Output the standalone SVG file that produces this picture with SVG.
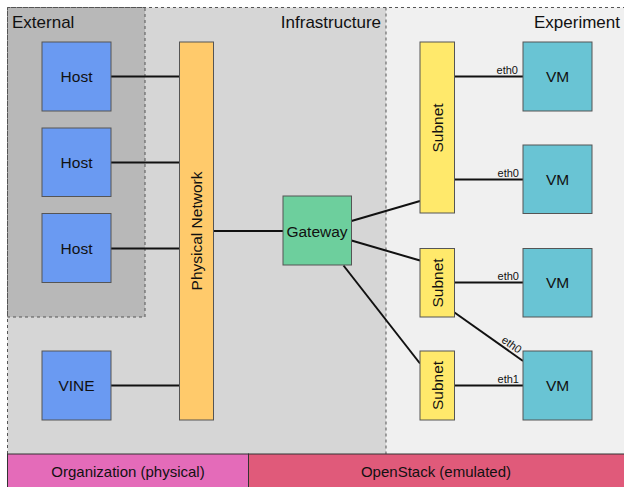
<svg xmlns="http://www.w3.org/2000/svg" width="624" height="487" viewBox="0 0 624 487">
<style>
text{font-family:"Liberation Sans",Arial,sans-serif;fill:#111}
.n{stroke:#555;stroke-width:1}
.host{fill:#6a9af2}
.vm{fill:#69c4d4}
.sub{fill:#ffe96b}
.lbl{font-size:15.5px;text-anchor:middle;dominant-baseline:central}
.bar{font-size:15px}
.reg{font-size:17px}
.eth{font-size:11px;text-anchor:end}
.dash{fill:none;stroke:#555;stroke-width:1;stroke-dasharray:3,3}
.c{stroke:#111;stroke-width:2;fill:none}
</style>
<rect width="624" height="487" fill="#fff"/>
<g id="regions">
<rect x="7.5" y="7.5" width="378.5" height="446.5" fill="#d6d6d6"/>
<rect x="386" y="7.5" width="238" height="446.5" fill="#f0f0f0"/>
<rect x="7.5" y="7.5" width="137.5" height="309.5" fill="#b8b8b8"/>
<path class="dash" d="M7.5,454 V7.5 H624"/>
<path class="dash" d="M386,7.5 V454"/>
<rect class="dash" x="7.5" y="7.5" width="137.5" height="309.5"/>
<text class="reg" x="12" y="28">External</text>
<text class="reg" x="381" y="28" text-anchor="end">Infrastructure</text>
<text class="reg" x="620" y="28" text-anchor="end">Experiment</text>
</g>
<g id="connectors">
<line class="c" x1="111" y1="76.5" x2="179" y2="76.5"/>
<line class="c" x1="111" y1="162.5" x2="179" y2="162.5"/>
<line class="c" x1="111" y1="248.5" x2="179" y2="248.5"/>
<line class="c" x1="111" y1="385.5" x2="179" y2="385.5"/>
<line class="c" x1="214" y1="231" x2="283" y2="231"/>
<line class="c" x1="351.5" y1="221" x2="420" y2="201"/>
<line class="c" x1="351.5" y1="240.5" x2="420" y2="260.5"/>
<line class="c" x1="343.5" y1="265.5" x2="420" y2="363.5"/>
<line class="c" x1="454.5" y1="76.5" x2="523" y2="76.5"/>
<line class="c" x1="454.5" y1="179.5" x2="523" y2="179.5"/>
<line class="c" x1="454.5" y1="282.5" x2="523" y2="282.5"/>
<line class="c" x1="454.5" y1="312.5" x2="523" y2="361"/>
<line class="c" x1="454.5" y1="385.5" x2="523" y2="385.5"/>
<text class="eth" x="518" y="74">eth0</text>
<text class="eth" x="519" y="177">eth0</text>
<text class="eth" x="519" y="280">eth0</text>
<text class="eth" x="519" y="383">eth1</text>
<text class="eth" transform="translate(511,345) rotate(35.5)" x="11" y="3">eth0</text>
</g>
<g id="host1"><rect class="n host" x="42" y="42" width="69" height="69"/><text class="lbl" x="76.5" y="76.5">Host</text></g>
<g id="host2"><rect class="n host" x="42" y="128" width="69" height="68.5"/><text class="lbl" x="76.5" y="162.5">Host</text></g>
<g id="host3"><rect class="n host" x="42" y="213.5" width="69" height="69"/><text class="lbl" x="76.5" y="248.5">Host</text></g>
<g id="vine"><rect class="n host" x="42" y="351" width="69" height="69"/><text class="lbl" x="76.5" y="385.5">VINE</text></g>
<g id="physical-network"><rect class="n" fill="#ffca6b" x="179.5" y="42" width="34" height="378"/><text class="lbl" transform="translate(196.5,231) rotate(-90)">Physical Network</text></g>
<g id="gateway"><rect class="n" fill="#6dcf9d" x="283" y="196" width="68.5" height="69"/><text class="lbl" x="317" y="231">Gateway</text></g>
<g id="subnet1"><rect class="n sub" x="420" y="42" width="34.5" height="171"/><text class="lbl" transform="translate(437,128) rotate(-90)">Subnet</text></g>
<g id="subnet2"><rect class="n sub" x="420" y="248.5" width="34.5" height="68.5"/><text class="lbl" transform="translate(437,283) rotate(-90)">Subnet</text></g>
<g id="subnet3"><rect class="n sub" x="420" y="351" width="34.5" height="69"/><text class="lbl" transform="translate(437,385.5) rotate(-90)">Subnet</text></g>
<g id="vm1"><rect class="n vm" x="523" y="42" width="69" height="69"/><text class="lbl" x="557.5" y="76.5">VM</text></g>
<g id="vm2"><rect class="n vm" x="523" y="145" width="69" height="68.5"/><text class="lbl" x="557.5" y="179.5">VM</text></g>
<g id="vm3"><rect class="n vm" x="523" y="248.5" width="69" height="68.5"/><text class="lbl" x="557.5" y="282.5">VM</text></g>
<g id="vm4"><rect class="n vm" x="523" y="351" width="69" height="69"/><text class="lbl" x="557.5" y="385.5">VM</text></g>
<g id="bar-organization"><rect x="7.5" y="454" width="241" height="34" fill="#e46bb9" stroke="#333" stroke-width="1"/><text class="lbl bar" x="128" y="471">Organization (physical)</text></g>
<g id="bar-openstack"><rect x="248.5" y="454" width="376" height="34" fill="#e05a7a" stroke="#333" stroke-width="1"/><text class="lbl bar" x="436" y="471">OpenStack (emulated)</text></g>
</svg>
